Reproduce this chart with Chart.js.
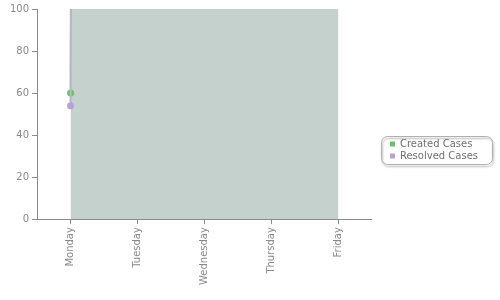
<!DOCTYPE html>
<html>
<head>
<meta charset="utf-8">
<script src="https://cdn.jsdelivr.net/npm/chart.js@4/dist/chart.umd.min.js"></script>
<style>
  html, body { margin: 0; padding: 0; background: #fff; }
  #wrap { width: 500px; height: 300px; }
</style>
</head>
<body>
<div id="wrap"><canvas id="myChart"></canvas></div>
<script>
//------Data------
const days = ['Monday', 'Tuesday', 'Wednesday', 'Thursday', 'Friday'];
// only Monday is inside the 0-100 window, the rest run far above it
const createdCases = [60, 9200, 8900, 9500, 9100];
const resolvedCases = [54, 9000, 9300, 8800, 9400];
const yTicks = [0, 20, 40, 60, 80, 100];
//----------------

const axisColor = '#8a8a8a';
const textColor = '#8a8a8a';
const legendGap = 16;
const legendShiftX = 16;
const legendShiftY = 3;

//--legend: extra room on its left, nudged, in a rounded frame with a small shadow
const legendFrame = {
  id: 'legendFrame',
  beforeLayout(chart) {
    const lg = chart.legend;
    if (!lg || lg._patched) return;
    lg._patched = true;
    const origFit = lg.fit;
    lg.fit = function () {
      origFit.call(this);
      this.width += legendGap;
    };
    const origDraw = lg.draw;
    lg.draw = function () {
      const c = this.ctx;
      c.save();
      c.translate(legendShiftX, legendShiftY);
      origDraw.apply(this, arguments);
      c.restore();
    };
  },
  afterDraw(chart) {
    const lg = chart.legend;
    if (!lg || !lg.legendHitBoxes.length) return;
    const ctx = chart.ctx;
    const boxes = lg.legendHitBoxes;
    const last = boxes[boxes.length - 1];
    const x = boxes[0].left - 9 + legendShiftX;
    const y = boxes[0].top - 3 + legendShiftY;
    const w = 111;
    const h = last.top + last.height + legendShiftY - y + 3;
    ctx.save();
    ctx.shadowColor = 'rgba(0,0,0,0.35)';
    ctx.shadowOffsetX = 1;
    ctx.shadowOffsetY = 2;
    ctx.shadowBlur = 2;
    ctx.strokeStyle = '#b0b0b0';
    ctx.lineWidth = 1;
    ctx.beginPath();
    ctx.roundRect(x + 0.5, y + 0.5, w, h, 6);
    ctx.stroke();
    ctx.restore();
  }
};

const ctx = document.getElementById('myChart').getContext('2d');

new Chart(ctx, {
  type: 'line',
  data: {
    labels: days,
    datasets: [
      {
        label: 'Created Cases',
        data: createdCases,
        order: 1,
        fill: 'origin',
        backgroundColor: '#c5d1cd',
        borderColor: '#c5d1cd',
        borderWidth: 2,
        pointBackgroundColor: '#6cc06c',
        pointBorderColor: '#6cc06c',
        pointBorderWidth: 0,
        pointRadius: 3.5,
        tension: 0
      },
      {
        label: 'Resolved Cases',
        data: resolvedCases,
        order: 0,
        fill: false,
        borderColor: '#b6b4cf',
        borderWidth: 2,
        pointBackgroundColor: '#b9a2d3',
        pointBorderColor: '#b9a2d3',
        pointBorderWidth: 0,
        pointRadius: 3.5,
        tension: 0
      }
    ]
  },
  options: {
    responsive: true,
    maintainAspectRatio: false,
    animation: false,
    layout: { padding: { top: 6, right: 12, left: 7, bottom: 12 } },
    font: { family: 'DejaVu Sans', size: 10 },
    plugins: {
      tooltip: { enabled: false },
      legend: {
        position: 'right',
        align: 'center',
        labels: {
          usePointStyle: true,
          pointStyle: 'rect',
          boxWidth: 5,
          boxHeight: 5,
          padding: 2,
          color: '#707070',
          font: { family: 'DejaVu Sans', size: 10 },
          sort: (a, b) => a.datasetIndex - b.datasetIndex
        }
      }
    },
    scales: {
      x: {
        offset: true,
        grid: {
          display: true,
          offset: false,
          drawOnChartArea: false,
          drawTicks: true,
          tickLength: 5,
          color: axisColor
        },
        border: { display: true, color: axisColor, width: 1 },
        ticks: {
          color: textColor,
          minRotation: 90,
          maxRotation: 90,
          padding: 3,
          font: { family: 'DejaVu Sans', size: 10 }
        }
      },
      y: {
        min: 0,
        max: 100,
        afterBuildTicks: (scale) => { scale.ticks = yTicks.map(v => ({ value: v })); },
        grid: {
          display: true,
          drawOnChartArea: false,
          drawTicks: true,
          tickLength: 5,
          color: axisColor
        },
        border: { display: true, color: axisColor, width: 1 },
        ticks: {
          color: textColor,
          padding: 3,
          font: { family: 'DejaVu Sans', size: 10 }
        }
      }
    }
  },
  plugins: [legendFrame]
});
</script>
</body>
</html>
